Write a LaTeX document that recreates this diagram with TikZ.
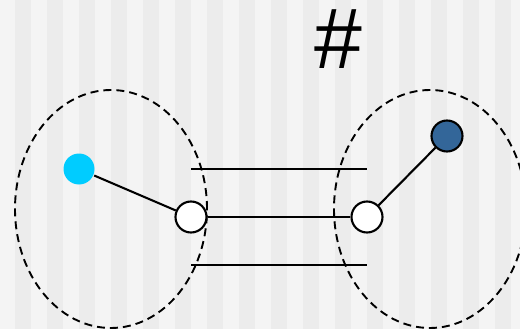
\documentclass[tikz,border=0pt]{standalone}
\usepackage{fontspec}
\setmainfont{Liberation Sans}
\usepackage{xcolor}
\definecolor{stripeLight}{RGB}{244, 244, 244}
\definecolor{stripeDark}{RGB}{236, 236, 236}
\definecolor{atomCyan}{RGB}{0, 204, 255}
\definecolor{atomBlue}{RGB}{51, 102, 153}
\usetikzlibrary{shapes.geometric}

\begin{document}
\begin{tikzpicture}[x=1pt, y=-1pt,
  zone/.style={draw, dashed, dash pattern=on 8pt off 5pt, line width=1.9pt,
               ellipse, inner sep=0pt, minimum width=192pt, minimum height=238pt},
  atom/.style={circle, draw, line width=2.1pt, fill=white, minimum size=31pt, inner sep=0pt},
  bond/.style={line width=2.1pt}
]
%% background stripes
\useasboundingbox (0,0) rectangle (520,329);
\clip (0,0) rectangle (520,329);
\fill[stripeLight] (0,0) rectangle (520,329);
\foreach \k in {0,...,15}
  \fill[stripeDark] (15+32*\k,0) rectangle (31+32*\k,329);

%% dashed regions
\node[zone] (zl) at (111,209) {};
\node[zone] (zr) at (430,209) {};

%% atoms
\node[atom, draw=none, fill=atomCyan] (ca) at (79,169) {};
\node[atom] (la) at (191,217) {};
\node[atom] (ra) at (367,217) {};
\node[atom, fill=atomBlue] (ba) at (447,136) {};

%% bonds
\coordinate (tl) at (191,169);
\coordinate (tr) at (367,169);
\coordinate (bl) at (191,265);
\coordinate (br) at (367,265);
\draw[bond] (tl) -- (tr);
\draw[bond] (bl) -- (br);
\draw[bond] (ca) -- (la);
\draw[bond] (la) -- (ra);
\draw[bond] (ra) -- (ba);

%% label
\node[font=\fontsize{86}{90}\selectfont, inner sep=0pt] (hash) at (338,39) {\#};
\end{tikzpicture}
\end{document}
